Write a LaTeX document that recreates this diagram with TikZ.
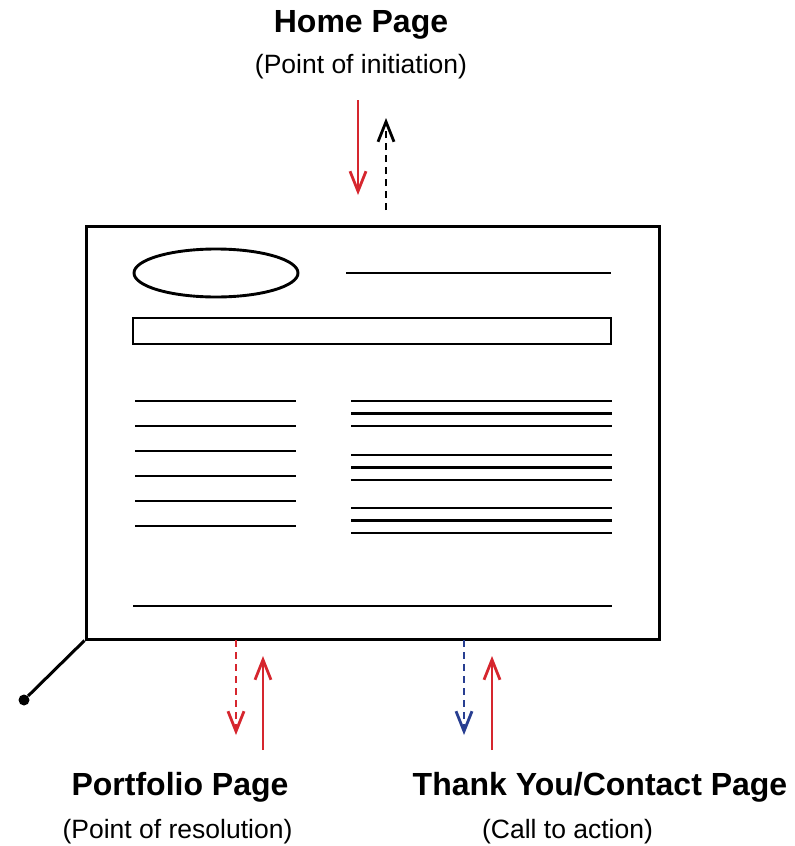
\documentclass[tikz,border=0pt]{standalone}
\usepackage{fontspec}
\setmainfont{Liberation Sans}
\usetikzlibrary{arrows.meta}
\definecolor{flowred}{RGB}{214,38,46}
\definecolor{flowblue}{RGB}{40,62,145}
\tikzset{
  frame/.style={draw, line width=3pt, inner sep=0pt},
  sketch/.style={line width=2.9pt},
  flow/.style={line width=2.8pt, -{Straight Barb[length=20pt,width=16pt,line width=2.8pt]}},
  flowdash/.style={flow, dash pattern=on 7pt off 5pt},
  title/.style={anchor=base, font=\fontsize{32}{37}\selectfont\bfseries},
  subtitle/.style={anchor=base, font=\fontsize{26.5}{31}\selectfont},
}
\begin{document}
\begin{tikzpicture}[x=1pt,y=-1pt]
\useasboundingbox (0,0) rectangle (795,846);

% page wireframe
\node[frame, minimum width=573pt, minimum height=413pt] (page) at (372.5,432.5) {};
\draw[sketch] (216,273) ellipse [x radius=82, y radius=24];
\draw[sketch] (346,273) -- (611,273);
\draw[sketch] (133,318) rectangle (611,344);
\foreach \y in {401,426,451,476,501,526}
  \draw[sketch] (135,\y) -- (296,\y);
\foreach \y in {401,413.5,426,455,467.5,480,508,520.5,533}
  \draw[sketch] (351,\y) -- (612,\y);
\draw[sketch] (133,606) -- (612,606);

% corner pointer
\node[circle, fill, inner sep=0pt, minimum size=11pt] (dot) at (24,700) {};
\draw[line width=3pt] (page.south west) -- (dot);

% labels
\node[title] (home) at (361,32) {Home Page};
\node[subtitle] (homesub) at (361,73) {(Point of initiation)};
\node[title] (port) at (180,795) {Portfolio Page};
\node[subtitle] (portsub) at (177.5,838) {(Point of resolution)};
\node[title] (thank) at (600,795) {Thank You/Contact Page};
\node[subtitle] (thanksub) at (567.5,838) {(Call to action)};

% arrow end points
\coordinate (inA) at (358,100);  \coordinate (inB) at (358,195);
\coordinate (outA) at (386,210); \coordinate (outB) at (386,118);
\coordinate (pdA) at (236,640);  \coordinate (pdB) at (236,735);
\coordinate (puA) at (263,750);  \coordinate (puB) at (263,656);
\coordinate (tdA) at (464,640);  \coordinate (tdB) at (464,735);
\coordinate (tuA) at (492,750);  \coordinate (tuB) at (492,656);

% flows
\draw[flow, flowred] (inA) -- (inB);
\draw[flowdash, black] (outA) -- (outB);
\draw[flowdash, flowred] (pdA) -- (pdB);
\draw[flow, flowred] (puA) -- (puB);
\draw[flowdash, flowblue] (tdA) -- (tdB);
\draw[flow, flowred] (tuA) -- (tuB);
\end{tikzpicture}
\end{document}
